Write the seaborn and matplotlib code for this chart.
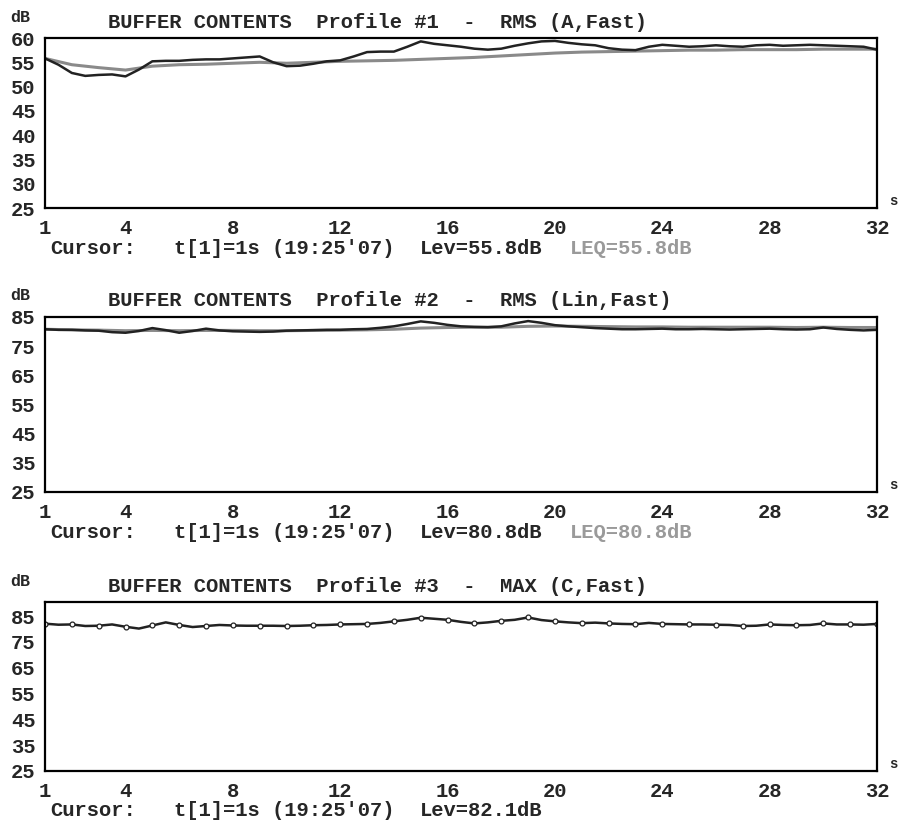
import numpy as np
import pandas as pd
import matplotlib
matplotlib.use("Agg")
import matplotlib.pyplot as plt
import seaborn as sns

# time axis (s), half-second steps
t_half = np.arange(1.0, 32.01, 0.5)
t_sec = np.arange(1, 33)

# Profile #1 - RMS (A,Fast)
p1_lev = [55.8, 54.5, 52.8, 52.2, 52.4, 52.5, 52.1, 53.5, 55.2, 55.3,
          55.3, 55.5, 55.6, 55.6, 55.8, 56.0, 56.2, 55.0, 54.2, 54.3,
          54.7, 55.2, 55.4, 56.2, 57.1, 57.2, 57.2, 58.2, 59.3, 58.8,
          58.5, 58.2, 57.8, 57.6, 57.8, 58.4, 58.9, 59.3, 59.4, 59.0,
          58.7, 58.5, 57.9, 57.6, 57.5, 58.2, 58.6, 58.4, 58.2, 58.3,
          58.5, 58.3, 58.2, 58.5, 58.6, 58.4, 58.5, 58.6, 58.5, 58.4,
          58.3, 58.2, 57.6]
p1_leq = [55.8, 54.5, 53.9, 53.4, 54.2, 54.5, 54.6, 54.8, 55.0, 54.8,
          55.0, 55.2, 55.3, 55.4, 55.6, 55.8, 56.0, 56.3, 56.6, 56.9,
          57.1, 57.2, 57.3, 57.4, 57.5, 57.5, 57.6, 57.6, 57.6, 57.7,
          57.7, 57.7]

# Profile #2 - RMS (Lin,Fast)
p2_lev = [80.8, 80.6, 80.6, 80.4, 80.3, 79.8, 79.6, 80.2, 81.2, 80.5,
          79.6, 80.2, 81.0, 80.4, 80.1, 80.0, 79.9, 80.0, 80.3, 80.4,
          80.5, 80.6, 80.6, 80.8, 80.9, 81.3, 81.8, 82.6, 83.5, 83.0,
          82.3, 81.8, 81.6, 81.5, 81.8, 82.8, 83.6, 83.0, 82.2, 81.8,
          81.5, 81.2, 81.0, 80.8, 80.8, 80.9, 81.0, 80.8, 80.8, 80.9,
          80.8, 80.7, 80.8, 80.9, 81.0, 80.8, 80.7, 80.8, 81.4, 80.9,
          80.6, 80.4, 80.6]
p2_leq = [80.8, 80.6, 80.5, 80.3, 80.4, 80.3, 80.4, 80.4, 80.3, 80.3,
          80.4, 80.5, 80.6, 80.8, 81.2, 81.4, 81.5, 81.5, 81.8, 81.9,
          81.8, 81.7, 81.6, 81.6, 81.5, 81.5, 81.5, 81.5, 81.4, 81.5,
          81.4, 81.4]

# Profile #3 - MAX (C,Fast)
p3_lev = [82.1, 81.7, 81.8, 81.2, 81.3, 81.8, 80.9, 80.2, 81.4, 82.6,
          81.6, 80.8, 81.2, 81.6, 81.4, 81.3, 81.3, 81.3, 81.2, 81.3,
          81.5, 81.6, 81.8, 81.9, 82.0, 82.4, 83.0, 83.6, 84.4, 84.0,
          83.6, 82.8, 82.2, 82.6, 83.2, 83.6, 84.5, 83.5, 83.0, 82.6,
          82.3, 82.5, 82.2, 82.0, 81.9, 82.4, 82.0, 81.9, 81.8, 81.8,
          81.7, 81.6, 81.2, 81.3, 81.8, 81.6, 81.5, 81.6, 82.2, 81.8,
          81.8, 81.7, 82.0]

titles = ["BUFFER CONTENTS  Profile #1  -  RMS (A,Fast)",
          "BUFFER CONTENTS  Profile #2  -  RMS (Lin,Fast)",
          "BUFFER CONTENTS  Profile #3  -  MAX (C,Fast)"]
lev_text = ["Lev=55.8dB", "Lev=80.8dB", "Lev=82.1dB"]
leq_text = ["LEQ=55.8dB", "LEQ=80.8dB", None]
yticks = [[25, 30, 35, 40, 45, 50, 55, 60],
          [25, 35, 45, 55, 65, 75, 85],
          [25, 35, 45, 55, 65, 75, 85]]
ylims = [(25, 60), (25, 85), (25, 90.5)]
xticks = [1, 4, 8, 12, 16, 20, 24, 28, 32]

sns.set_style("white")
plt.rcParams['font.family'] = ['Liberation Mono', 'DejaVu Sans Mono']
plt.rcParams['font.weight'] = 'bold'

W, H = 899, 824
fig = plt.figure(figsize=(W / 100, H / 100), dpi=100)

# (top, bottom) of each panel in pixels
boxes = [(38, 208), (317, 492), (602, 771)]
left, right = 45, 877
fs = 14.8


def px(x, y):
    return x / W, 1 - y / H


for i, (top, bot) in enumerate(boxes):
    ax = fig.add_axes([left / W, 1 - bot / H, (right - left) / W, (bot - top) / H])
    if i == 0:
        sns.lineplot(x=t_sec, y=p1_leq, ax=ax, color="#8a8a8a", linewidth=2.2)
        sns.lineplot(x=t_half, y=p1_lev, ax=ax, color="#222222", linewidth=1.8)
    elif i == 1:
        sns.lineplot(x=t_sec, y=p2_leq, ax=ax, color="#8a8a8a", linewidth=2.2)
        sns.lineplot(x=t_half, y=p2_lev, ax=ax, color="#222222", linewidth=1.8)
    else:
        sns.lineplot(x=t_half, y=p3_lev, ax=ax, color="#222222", linewidth=1.8,
                     marker="o", markevery=2, markersize=3.5,
                     markerfacecolor="white", markeredgecolor="#222222",
                     markeredgewidth=0.9)
    ax.set_xlim(1, 32)
    ax.set_ylim(*ylims[i])
    ax.set_xticks(xticks)
    ax.set_xticks([6, 10, 14, 18, 22, 26, 30], minor=True)
    ax.set_yticks(yticks[i])
    ax.tick_params(axis="both", which="major", direction="out", length=4,
                   width=1.2, labelsize=fs, color="black", pad=3)
    ax.tick_params(axis="x", which="minor", direction="out", length=3, width=1.0)
    ax.tick_params(axis="x", pad=4)
    for lab in ax.get_xticklabels() + ax.get_yticklabels():
        lab.set_fontweight("bold")
    for s in ax.spines.values():
        s.set_color("black")
        s.set_linewidth(1.6)
    ax.set_xlabel("")
    ax.set_ylabel("")
    ax.grid(False)

    # header texts
    fig.text(*px(10, top - 21), "dB", fontsize=12, fontweight="bold", va="center")
    fig.text(*px(108, top - 16), titles[i], fontsize=fs, fontweight="bold", va="center")
    fig.text(*px(889, bot - 7), "s", fontsize=10, fontweight="bold", va="center")

    # cursor line
    cy = bot + 40
    fig.text(*px(50, cy), "Cursor:", fontsize=fs, fontweight="bold", va="center")
    fig.text(*px(174, cy), "t[1]=1s (19:25'07)", fontsize=fs, fontweight="bold", va="center")
    fig.text(*px(420, cy), lev_text[i], fontsize=fs, fontweight="bold", va="center")
    if leq_text[i]:
        fig.text(*px(570, cy), leq_text[i], fontsize=fs, fontweight="bold",
                 color="#9a9a9a", va="center")

fig.savefig("out.png", dpi=100)
